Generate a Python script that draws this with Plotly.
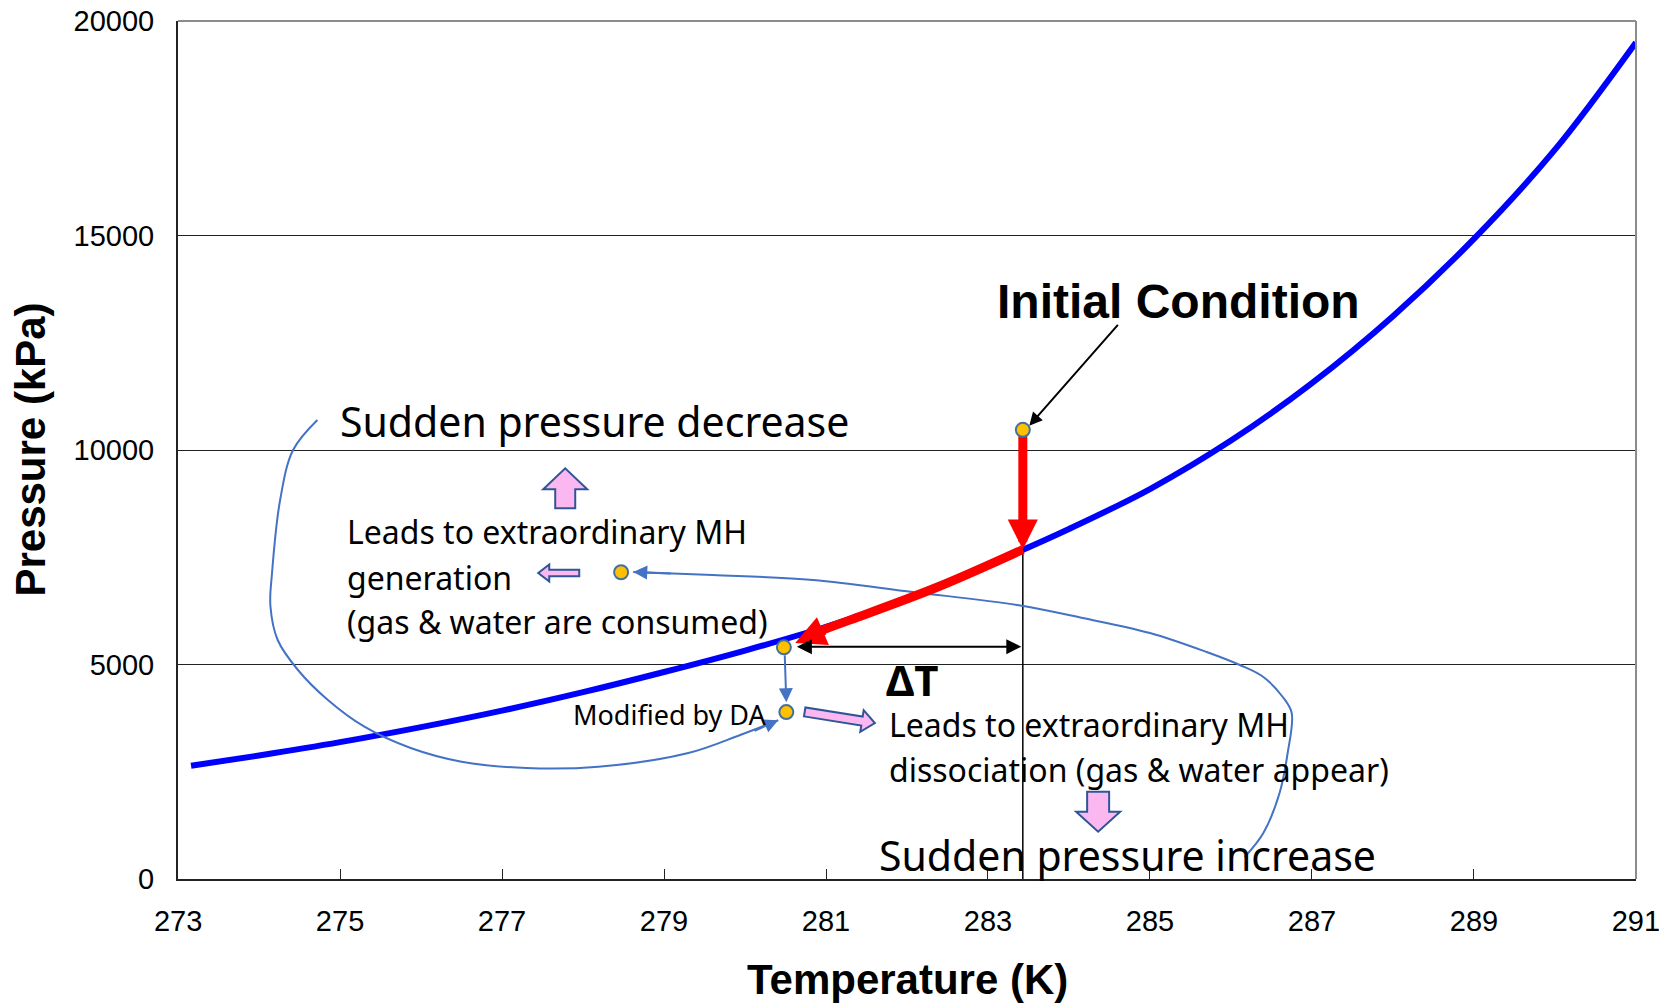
import math
import plotly.graph_objects as go

# Hydrate equilibrium curve (temperature in K, pressure in kPa)
temp_k = [273.16, 274.0, 275.0, 276.0, 277.0, 278.0, 279.0, 280.0, 281.0, 282.0,
          283.0, 284.0, 285.0, 286.0, 287.0, 288.0, 289.0, 290.0, 291.0]
pressure_kpa = [2640, 2880, 3190, 3540, 3925, 4355, 4825, 5325, 5880, 6540,
                7320, 8160, 9090, 10220, 11560, 13120, 14920, 17000, 19500]

# State points
initial_T, initial_P = 283.43, 10470
onset_T, onset_P = 280.48, 5400
da_T, da_P = 280.51, 3890
gen_T, gen_P = 278.47, 7150

# Red path: pressure drop, then cooling along the equilibrium curve
red_drop_T = [283.43, 283.43]
red_drop_P = [10470, 7680]
red_slide_T = [283.43, 282.37, 281.30, 280.95]
red_slide_P = [7680, 6800, 6040, 5800]

# Guide curves linking the explanations to the points
loop_dec_T = [274.72, 274.42, 274.26, 274.16, 274.14, 274.23, 274.48, 274.85, 275.30,
              275.88, 276.50, 277.30, 278.19, 279.30, 279.94, 280.41]
loop_dec_P = [10700, 10000, 8835, 7133, 6364, 5571, 4872, 4172, 3550,
              3047, 2734, 2587, 2618, 2937, 3357, 3700]
loop_inc_T = [286.17, 286.40, 286.60, 286.70, 286.75, 286.64, 286.40, 286.11, 285.70,
              285.00, 284.17, 283.36, 282.07, 280.84, 279.60, 278.62]
loop_inc_P = [513, 1072, 2005, 2937, 3869, 4242, 4709, 4988, 5291,
              5734, 6084, 6387, 6690, 6970, 7086, 7156]

x_ticks = [273, 275, 277, 279, 281, 283, 285, 287, 289, 291]
x_tick_text = ["273", "275", "277", "279", "281", "283", "285", "287", "289", "291"]
y_ticks = [0, 5000, 10000, 15000, 20000]
y_tick_text = ["0", "5000", "10000", "15000", "20000"]

BLUE = "#0000FF"
RED = "#FF0000"
GUIDE = "#4472C4"
DOT_FILL = "#FFC000"
DOT_EDGE = "#41719C"
PINK = "#FBB8F0"
PINK_EDGE = "#2F5597"
TEXT_FONT = "Noto Sans"
AXIS_FONT = "Liberation Sans"

fig = go.Figure()

fig.add_trace(go.Scatter(x=temp_k, y=pressure_kpa, mode="lines",
                         line=dict(color=BLUE, width=6, shape="spline", smoothing=1.0),
                         hoverinfo="skip"))

# Vertical reference line at the initial temperature
fig.add_trace(go.Scatter(x=[initial_T, initial_T], y=[red_drop_P[1], 0], mode="lines",
                         line=dict(color="black", width=1.5), hoverinfo="skip"))

for tx, py in ((loop_dec_T, loop_dec_P), (loop_inc_T, loop_inc_P)):
    fig.add_trace(go.Scatter(x=tx, y=py, mode="lines",
                             line=dict(color=GUIDE, width=2, shape="spline", smoothing=1.0),
                             hoverinfo="skip"))

fig.add_trace(go.Scatter(x=red_drop_T, y=[red_drop_P[0], 8100], mode="lines",
                         line=dict(color=RED, width=9), hoverinfo="skip"))
fig.add_trace(go.Scatter(x=red_slide_T, y=red_slide_P, mode="lines",
                         line=dict(color=RED, width=9, shape="spline"), hoverinfo="skip"))

fig.add_trace(go.Scatter(x=[initial_T, gen_T, onset_T, da_T],
                         y=[initial_P, gen_P, onset_P, da_P], mode="markers",
                         marker=dict(size=14, color=DOT_FILL, line=dict(color=DOT_EDGE, width=2)),
                         hoverinfo="skip"))


def arrow(x, y, ax, ay, color, width, size, **kw):
    fig.add_annotation(x=x, y=y, ax=ax, ay=ay, xref="x", yref="y", axref="x", ayref="y",
                       text="", showarrow=True, arrowhead=2, arrowsize=size,
                       arrowwidth=width, arrowcolor=color, standoff=0, **kw)


# Red arrowheads
arrow(initial_T, red_drop_P[1], initial_T, 8300, RED, 9, 0.67)
arrow(280.62, 5500, 281.0, 5810, RED, 9, 0.67)
# Delta T span
arrow(280.64, 5415, 283.43, 5415, "black", 2, 1.5, arrowside="end+start", startarrowhead=2,
      startarrowsize=1.5, startstandoff=0)
# Pointer to the initial condition
arrow(283.51, 10567, 284.62, 12953, "black", 2, 1.3)
# Guide arrows
arrow(280.41, 3700, 280.1, 3440, GUIDE, 2, 1.4)
arrow(278.62, 7156, 279.1, 7120, GUIDE, 2, 1.4)
arrow(da_T, 4120, onset_T + 0.01, 5250, GUIDE, 2, 1.4)


def label(x, y, text, size, family=TEXT_FONT, xanchor="left"):
    fig.add_annotation(x=x, y=y, xref="x", yref="y", text=text, showarrow=False,
                       xanchor=xanchor, yanchor="middle",
                       font=dict(family=family, size=size, color="black"))


label(274.98, 10676, "Sudden pressure decrease", 41)
label(275.06, 8089, "Leads to extraordinary MH", 32)
label(275.06, 7026, "generation", 32)
label(275.06, 5991, "(gas &amp; water are consumed)", 32)
label(280.30, 3846, "Modified by DA", 27, xanchor="right")
label(281.72, 4660, "<b>ΔT</b>", 42)
label(281.75, 3597, "Leads to extraordinary MH", 32)
label(281.75, 2564, "dissociation (gas &amp; water appear)", 32)
label(281.63, 559, "Sudden pressure increase", 41)
label(285.35, 13457, "<b>Initial Condition</b>", 48, family=AXIS_FONT, xanchor="center")


def block_arrow(cx, cy, length, shaft_w, head_w, head_len, angle_deg):
    half = length / 2
    pts = [(-half, -shaft_w / 2), (half - head_len, -shaft_w / 2), (half - head_len, -head_w / 2),
           (half, 0), (half - head_len, head_w / 2), (half - head_len, shaft_w / 2),
           (-half, shaft_w / 2)]
    a = math.radians(angle_deg)
    rot = [(px * math.cos(a) - py * math.sin(a), px * math.sin(a) + py * math.cos(a)) for px, py in pts]
    path = "M " + " L ".join(f"{px:.1f},{py:.1f}" for px, py in rot) + " Z"
    fig.add_shape(type="path", path=path, xref="x", yref="y", xsizemode="pixel",
                  ysizemode="pixel", xanchor=cx, yanchor=cy, fillcolor=PINK,
                  line=dict(color=PINK_EDGE, width=2), layer="above")


block_arrow(277.78, 9107, 40, 20, 44, 21, 90)
block_arrow(277.70, 7133, 41, 6.5, 17, 11, 180)
block_arrow(281.17, 3765, 71, 9, 22, 13, -9)
block_arrow(284.36, 1569, 40, 22, 44, 20, -90)

# Frame: light top and right edges
fig.add_shape(type="line", xref="paper", yref="paper", x0=0, x1=1, y0=1, y1=1,
              line=dict(color="#8C8C8C", width=2))
fig.add_shape(type="line", xref="paper", yref="paper", x0=1, x1=1, y0=0, y1=1,
              line=dict(color="#8C8C8C", width=2))

# Axis titles
fig.add_annotation(x=0.5, y=-0.1166, xref="paper", yref="paper", text="<b>Temperature (K)</b>",
                   showarrow=False, xanchor="center", yanchor="middle",
                   font=dict(family=AXIS_FONT, size=42, color="black"))
fig.add_annotation(x=-0.1018, y=0.5, xref="paper", yref="paper", text="<b>Pressure (kPa)</b>",
                   showarrow=False, xanchor="center", yanchor="middle", textangle=-90,
                   font=dict(family=AXIS_FONT, size=42, color="black"))

fig.update_layout(
    width=1659, height=1003,
    margin=dict(l=178, r=23, t=21, b=124, autoexpand=False),
    plot_bgcolor="white", paper_bgcolor="white",
    showlegend=False,
    xaxis=dict(range=[272.999, 291.001], tickvals=x_ticks, ticktext=x_tick_text,
               automargin=False, ticklabeloverflow="allow",
               showgrid=False, zeroline=False, showline=True, linecolor="#222222", linewidth=2,
               ticks="inside", ticklen=10, tickcolor="#222222", tickwidth=1,
               ticklabelstandoff=15,
               tickfont=dict(family=AXIS_FONT, size=29, color="black")),
    yaxis=dict(range=[0, 20000], tickvals=y_ticks, ticktext=y_tick_text,
               automargin=False, ticklabeloverflow="allow",
               showgrid=True, gridcolor="#222222", gridwidth=1, zeroline=False,
               showline=True, linecolor="#222222", linewidth=2,
               ticks="inside", ticklen=10, tickcolor="#222222", tickwidth=1,
               ticklabelstandoff=16,
               tickfont=dict(family=AXIS_FONT, size=29, color="black")),
)

fig.write_html("out.html")
